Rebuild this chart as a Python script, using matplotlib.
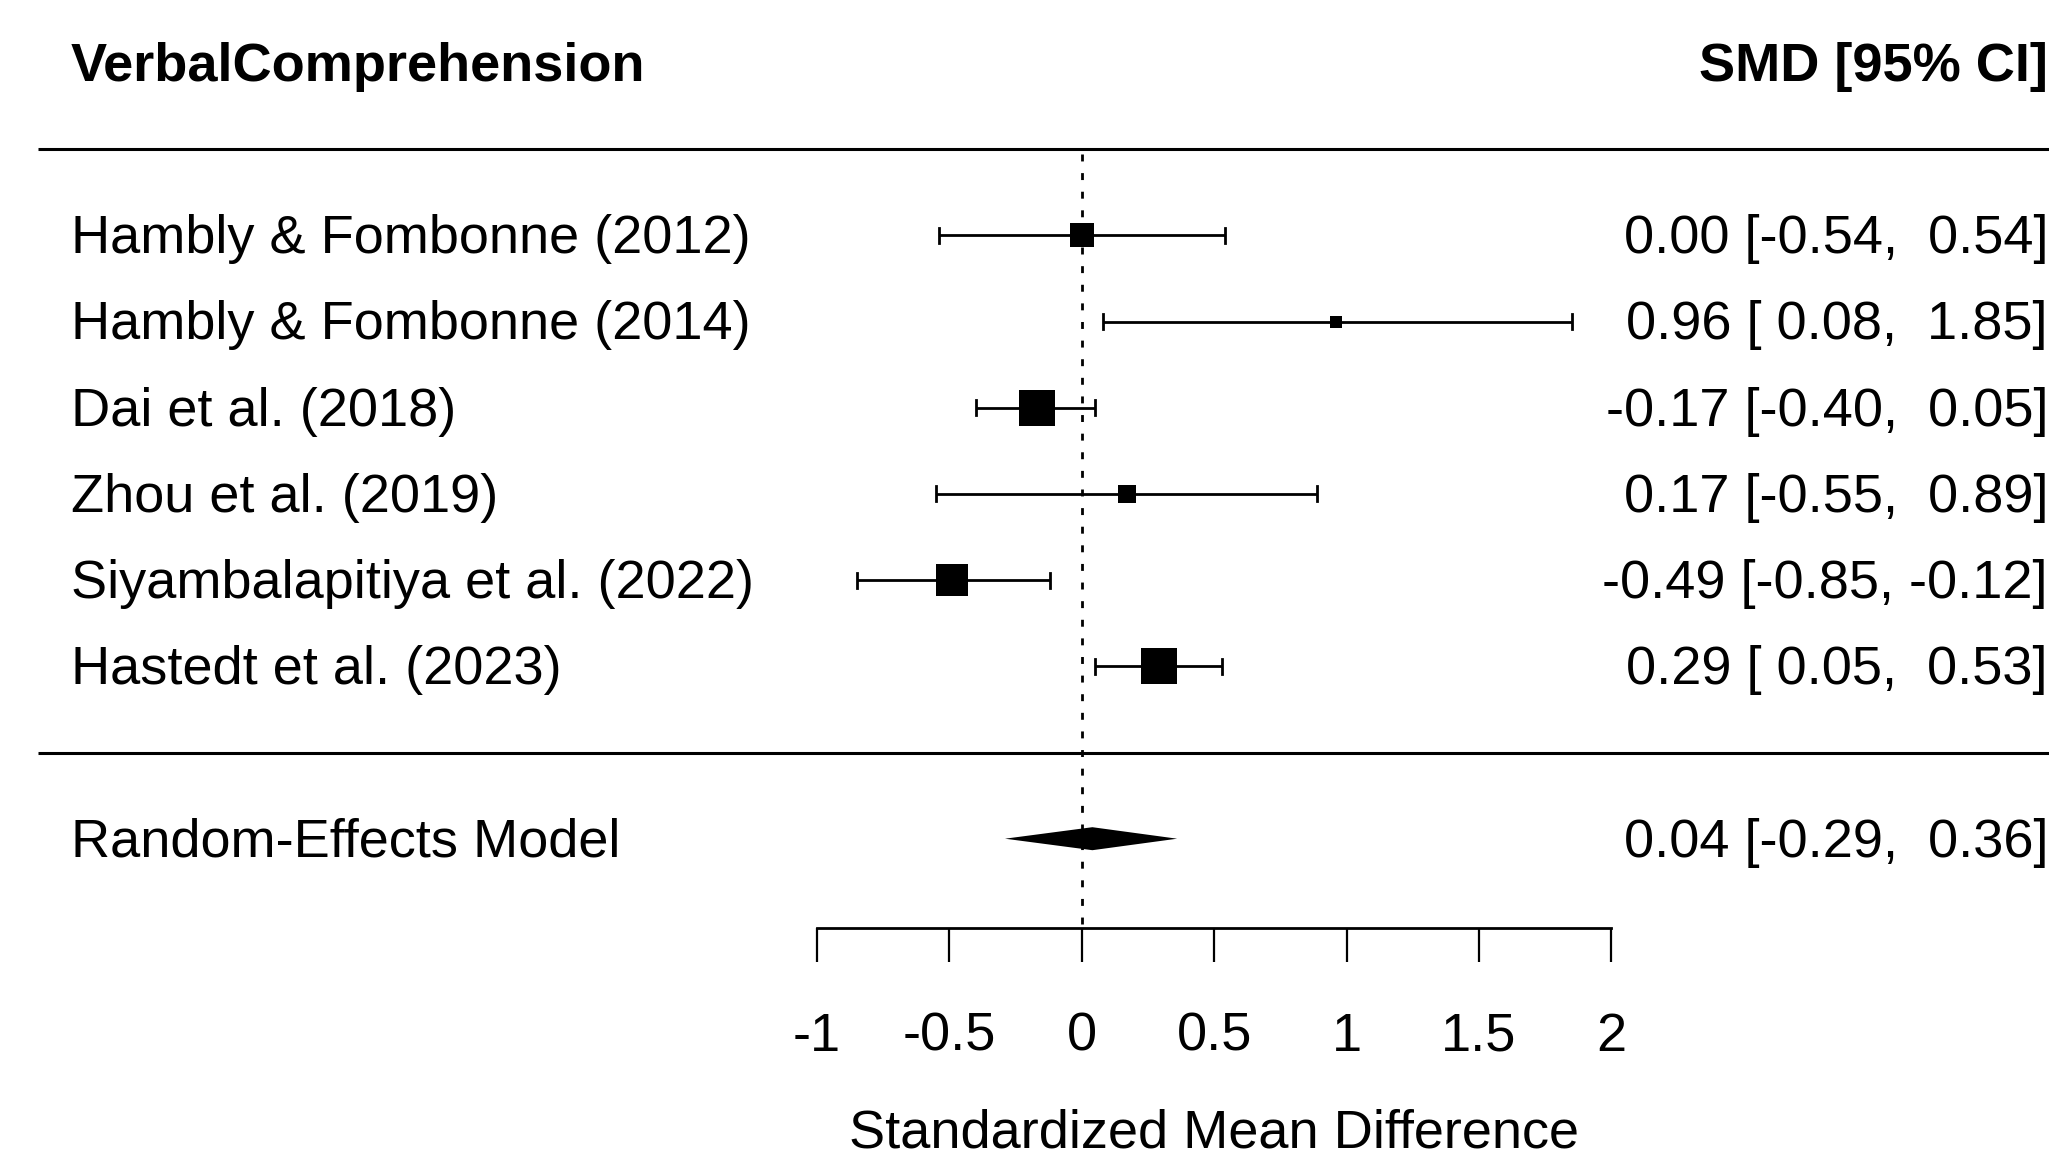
import matplotlib
matplotlib.use("Agg")
import matplotlib.pyplot as plt
import numpy as np

plt.rcParams['font.family'] = ['Liberation Sans', 'DejaVu Sans']
plt.rcParams['axes.unicode_minus'] = False

# study data
studies = ['Hambly & Fombonne (2012)', 'Hambly & Fombonne (2014)', 'Dai et al. (2018)',
           'Zhou et al. (2019)', 'Siyambalapitiya et al. (2022)', 'Hastedt et al. (2023)']
smd = [0.00, 0.96, -0.17, 0.17, -0.49, 0.29]
ci_lo = [-0.54, 0.08, -0.40, -0.55, -0.85, 0.05]
ci_hi = [0.54, 1.85, 0.05, 0.89, -0.12, 0.53]
weights = [15.1, 8.9, 22.9, 11.4, 19.5, 22.5]  # estimated RE weights (%)

model_label = 'Random-Effects Model'
model_est, model_lo, model_hi = 0.04, -0.29, 0.36

outcome = 'VerbalComprehension'
col_header = 'SMD [95% CI]'
xlab = 'Standardized Mean Difference'
xticks = [-1, -0.5, 0, 0.5, 1, 1.5, 2]
xticklabels = ['-1', '-0.5', '0', '0.5', '1', '1.5', '2']

# layout (pixel mapping of the reference)
W, H = 2049, 1149
x0_px, x_scale = 1081.8, 264.8      # pixel of x=0, pixels per unit
r0_px, r_scale = 752.5, 86.2        # pixel of row 0, pixels per row
fs = 39
base_off = 18 / r_scale             # baseline offset below row centre

fig = plt.figure(figsize=(W / 100, H / 100), dpi=100)
ax = fig.add_axes([0, 0, 1, 1])
ax.set_xlim(-x0_px / x_scale, (W - x0_px) / x_scale)
ax.set_ylim((r0_px - H) / r_scale, r0_px / r_scale)
xl, xr = ax.get_xlim()

k = len(studies)
rows = np.arange(k, 0, -1)

# separators and reference line
ax.hlines([k + 1, 0], -3.94, xr, color='black', lw=2.2)
axis_row = (r0_px - 927.7) / r_scale
ax.plot([0, 0], [k + 0.94, axis_row], color='black', lw=2,
        linestyle=(0, (2.5, 4.2)))

# point sizes from weights (metafor style: sqrt weights scaled to 0.5-1.5)
sw = np.sqrt(np.array(weights))
psize = 0.5 + (sw - sw.min()) / (sw.max() - sw.min())

cap = 7.5 / r_scale
for r, est, lo, hi, ps in zip(rows, smd, ci_lo, ci_hi, psize):
    ax.plot([lo, hi], [r, r], color='black', lw=2, solid_capstyle='butt')
    ax.plot([lo, lo], [r - cap, r + cap], color='black', lw=2)
    ax.plot([hi, hi], [r - cap, r + cap], color='black', lw=2)
    ax.plot(est, r, marker='s', color='black', markeredgewidth=0,
            markersize=24.5 * ps * 0.72)

# summary diamond
dh = 11.5 / r_scale
ax.fill([model_lo, model_est, model_hi, model_est],
        [-1, -1 + dh, -1, -1 - dh], color='black', lw=0)

# text columns
lab_x = (70.6 - x0_px) / x_scale
ann_x = xr - 1 / x_scale
for r, name, est, lo, hi in zip(rows, studies, smd, ci_lo, ci_hi):
    ax.text(lab_x, r - base_off, name, ha='left', va='baseline', fontsize=fs)
    ax.text(ann_x, r - base_off, f'{est:.2f} [{lo:5.2f}, {hi:5.2f}]',
            ha='right', va='baseline', fontsize=fs)

ax.text(lab_x, -1 - base_off, model_label, ha='left', va='baseline', fontsize=fs)
ax.text(ann_x, -1 - base_off, f'{model_est:.2f} [{model_lo:5.2f}, {model_hi:5.2f}]',
        ha='right', va='baseline', fontsize=fs)

ax.text(lab_x, k + 2 - base_off, outcome, ha='left', va='baseline',
        fontsize=fs, fontweight='bold')
ax.text(ann_x, k + 2 - base_off, col_header, ha='right', va='baseline',
        fontsize=fs, fontweight='bold')

# x axis
for s in ['left', 'right', 'top']:
    ax.spines[s].set_visible(False)
ax.spines['bottom'].set_position(('data', axis_row))
ax.spines['bottom'].set_bounds(-1, 2)
ax.spines['bottom'].set_linewidth(2)
ax.yaxis.set_visible(False)
ax.set_xticks(xticks)
ax.set_xticklabels(xticklabels)
ax.tick_params(axis='x', direction='out', length=24.5, width=1.6, pad=36,
               labelsize=fs)
ax.text(0.5, (r0_px - 1148) / r_scale, xlab, ha='center', va='baseline', fontsize=fs)

fig.savefig('out.png', dpi=100, facecolor='white')
